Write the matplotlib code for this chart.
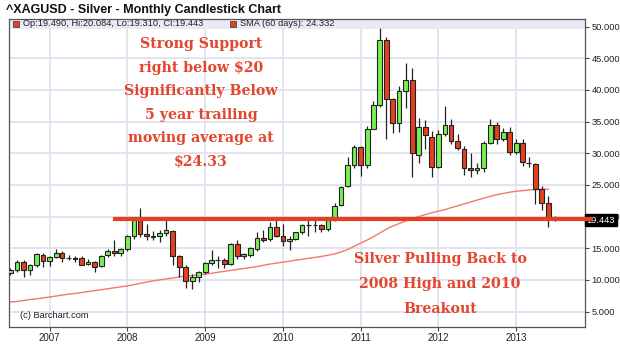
import numpy as np
import pandas as pd
import matplotlib
matplotlib.use("Agg")
import matplotlib.pyplot as plt
import matplotlib.dates as mdates
from matplotlib.patches import Rectangle
from matplotlib.transforms import blended_transform_factory

plt.rcParams["font.family"] = ["Liberation Sans", "DejaVu Sans"]

# monthly silver candles, Jul 2006 .. Jul 2013
months = pd.date_range("2006-07-01", "2013-07-01", freq="MS")

opens = [11.1, 11.5, 12.8, 11.5, 12.4, 14.0,
         13.0, 13.65, 14.2, 13.4, 13.45, 13.4, 12.5, 12.9, 12.2, 13.9, 14.6, 14.2,
         14.9, 17.0, 19.9, 17.3, 16.9, 16.9, 17.4, 17.7, 13.7, 12.1, 9.9, 10.5,
         11.3, 12.7, 13.1, 13.1, 12.5, 15.7, 13.7, 13.9, 14.9, 16.6, 16.4, 18.4,
         17.0, 16.2, 16.4, 17.5, 18.7, 18.6, 18.7, 18.0, 19.5, 21.8, 24.8, 28.1,
         31.0, 28.1, 33.9, 37.6, 47.9, 38.5, 34.7, 39.9, 41.6, 29.7, 34.2, 32.6,
         27.8, 33.1, 34.5, 32.0, 30.7, 27.6, 27.4, 27.7, 31.6, 34.4, 32.3, 33.4,
         30.2, 31.6, 28.5, 28.3, 24.3, 22.2, 19.49]
highs = [11.9, 13.1, 13.1, 12.5, 14.2, 14.2,
         13.8, 14.8, 14.5, 13.9, 13.7, 13.8, 13.3, 13.0, 13.9, 14.8, 16.3, 15.1,
         17.1, 20.0, 21.4, 18.9, 17.7, 17.9, 19.4, 17.8, 14.0, 12.3, 10.9, 11.4,
         12.9, 14.7, 13.7, 13.4, 15.9, 16.3, 14.3, 15.2, 17.5, 17.9, 19.2, 19.4,
         18.8, 17.0, 17.6, 18.9, 19.6, 19.5, 18.8, 19.6, 22.1, 24.9, 29.4, 31.3,
         31.2, 34.3, 38.2, 49.8, 48.3, 38.7, 40.6, 44.2, 43.4, 35.5, 35.3, 33.5,
         33.6, 37.5, 35.4, 33.0, 31.1, 30.0, 28.4, 32.0, 35.4, 35.0, 34.0, 34.1,
         32.3, 32.3, 29.4, 28.4, 24.8, 23.2, 20.084]
lows = [10.7, 11.2, 10.5, 10.8, 12.1, 12.1,
        12.2, 13.4, 12.9, 13.1, 12.8, 12.3, 12.3, 11.3, 12.0, 13.6, 13.8, 13.8,
        14.6, 16.5, 16.8, 16.3, 16.3, 16.0, 16.9, 12.4, 10.5, 8.7, 8.6, 9.6,
        10.9, 12.4, 11.9, 11.8, 12.3, 13.3, 13.3, 13.6, 14.6, 16.0, 16.2, 16.7,
        15.3, 14.7, 16.3, 17.3, 17.0, 17.6, 17.5, 17.7, 19.3, 21.6, 24.7, 27.6,
        26.4, 27.6, 33.8, 37.3, 32.3, 33.2, 33.4, 37.1, 26.2, 28.4, 30.6, 26.2,
        27.6, 32.8, 31.5, 30.5, 26.6, 26.2, 26.8, 27.0, 31.4, 31.4, 31.9, 29.8,
        29.9, 28.0, 27.8, 22.0, 21.0, 18.3, 19.31]
closes = [11.6, 12.9, 11.5, 12.3, 14.1, 13.0,
          13.6, 14.2, 13.4, 13.45, 13.35, 12.4, 12.9, 12.1, 13.8, 14.6, 14.2, 14.9,
          16.9, 19.4, 17.3, 16.9, 16.8, 17.4, 17.8, 13.7, 12.0, 9.9, 10.5, 11.3,
          12.6, 13.1, 13.1, 12.5, 15.7, 13.7, 14.1, 15.0, 16.6, 16.3, 18.4, 16.9,
          16.2, 16.4, 17.5, 18.6, 18.6, 18.7, 18.0, 19.4, 21.7, 24.7, 28.1, 31.0,
          28.1, 33.9, 37.6, 47.9, 38.5, 34.7, 39.9, 41.6, 30.0, 34.2, 32.9, 27.8,
          33.1, 34.4, 32.0, 30.8, 27.7, 27.4, 27.7, 31.6, 34.4, 32.3, 33.4, 30.2,
          31.6, 28.6, 28.4, 24.3, 22.2, 19.7, 19.443]

# 60-period simple moving average, Jul 2006 .. Jun 2013
sma = [6.5, 6.6, 6.75, 6.9, 7.0, 7.15,
       7.3, 7.45, 7.6, 7.75, 7.85, 8.0, 8.15, 8.3, 8.45, 8.6, 8.75, 8.9,
       9.05, 9.25, 9.45, 9.65, 9.85, 10.0, 10.15, 10.3, 10.45, 10.6, 10.7, 10.8,
       10.9, 11.05, 11.2, 11.35, 11.5, 11.65, 11.8, 11.95, 12.1, 12.3, 12.5, 12.65,
       12.8, 12.95, 13.1, 13.25, 13.4, 13.55, 13.7, 13.9, 14.1, 14.4, 14.8, 15.3,
       15.8, 16.3, 16.8, 17.4, 18.0, 18.5, 18.9, 19.3, 19.7, 20.0, 20.3, 20.6,
       20.85, 21.1, 21.4, 21.7, 22.0, 22.3, 22.6, 22.9, 23.2, 23.45, 23.65, 23.85,
       24.0, 24.1, 24.2, 24.25, 24.3, 24.33]

support_level = 19.6
support_from = pd.Timestamp("2007-10-25")
year_ticks = [pd.Timestamp(f"{y}-01-01") for y in range(2007, 2014)]
year_labels = [str(y) for y in range(2007, 2014)]
price_ticks = [5, 10, 15, 20, 25, 30, 35, 40, 45, 50]

RED = "#e5401f"
GREEN = "#78f050"
TEXT_RED = "#e4452e"
GRID = "#dfe2ef"

# plot box in pixels: left 8.5, right 585, top 19, bottom 327
W, H = 620, 346
ax_w, ax_h = 576.5, 308
fig = plt.figure(figsize=(6.2, 3.46), dpi=100)
fig.patch.set_facecolor("white")
ax = fig.add_axes([8.5 / W, (H - 327) / H, ax_w / W, ax_h / H])

x = mdates.date2num(months)
o = np.array(opens)
h = np.array(highs)
l = np.array(lows)
c = np.array(closes)
up = c >= o
colors = [GREEN if u else RED for u in up]

# wicks then bodies
ax.vlines(x, l, h, color="#222222", lw=0.9, zorder=3)
body_lo = np.minimum(o, c)
body_h = np.maximum(np.abs(c - o), 0.04)
ax.bar(x, body_h, bottom=body_lo, width=22, color=colors,
       edgecolor="#222222", linewidth=0.8, zorder=4)

# moving average
ax.plot(x[:len(sma)], sma, color="#f27a68", lw=1.0, zorder=2)

# support line, running out past the price axis
x_end = mdates.date2num(pd.Timestamp("2013-11-20"))
ax.plot([mdates.date2num(support_from), x_end + 36], [support_level] * 2,
        color=RED, lw=3.0, solid_capstyle="butt", zorder=6, clip_on=False)

ax.set_xlim(mdates.date2num(pd.Timestamp("2006-06-22")), x_end)
ax.set_ylim(2.56, 51.2)

ax.set_xticks(mdates.date2num(year_ticks))
ax.set_xticklabels(year_labels)
ax.set_yticks(price_ticks)
ax.set_yticklabels([f"{v:.3f}" for v in price_ticks])
ax.yaxis.tick_right()
ax.tick_params(axis="both", direction="out", length=3, width=0.8,
               colors="#444444", labelcolor="#222222", pad=1.5)
ax.tick_params(axis="y", labelsize=6.7)
ax.tick_params(axis="x", labelsize=7)
ax.grid(True, color=GRID, lw=1.3, zorder=0)
ax.set_axisbelow(True)
for s in ax.spines.values():
    s.set_color("#555555")
    s.set_linewidth(0.9)

# header strip with the last bar and the average
ax.add_patch(Rectangle((0, 1 - 10 / ax_h), 1, 10 / ax_h, transform=ax.transAxes,
                       facecolor="#e8eaf6", edgecolor="none", zorder=1))
ax.add_patch(Rectangle((4.5 / ax_w, 1 - 8 / ax_h), 5.5 / ax_w, 6 / ax_h, transform=ax.transAxes,
                       facecolor=RED, edgecolor="#333333", lw=0.5, zorder=2))
ax.text(14.5 / ax_w, 1 - 5 / ax_h, "Op:19.490, Hi:20.084, Lo:19.310, Cl:19.443",
        transform=ax.transAxes, fontsize=6.7, va="center", color="#222222", zorder=2)
ax.add_patch(Rectangle((221.5 / ax_w, 1 - 8 / ax_h), 5.5 / ax_w, 6 / ax_h, transform=ax.transAxes,
                       facecolor=RED, edgecolor="#333333", lw=0.5, zorder=2))
ax.text(231.5 / ax_w, 1 - 5 / ax_h, "SMA (60 days): 24.332",
        transform=ax.transAxes, fontsize=6.7, va="center", color="#222222", zorder=2)

# last price marker on the axis
tr = blended_transform_factory(ax.transAxes, ax.transData)
ax.text(1.0 + 1.5 / ax_w, closes[-1], f"{closes[-1]:.3f}", transform=tr, fontsize=6.7,
        color="white", va="center", ha="left", zorder=5,
        bbox=dict(boxstyle="square,pad=0.2", facecolor="black", edgecolor="black"))

ax.text(12 / ax_w, 11 / ax_h, "(c) Barchart.com", transform=ax.transAxes,
        fontsize=6.7, color="#222222", va="center")

fig.text(6 / W, 1 - 13.5 / H, "^XAGUSD - Silver - Monthly Candlestick Chart",
         fontsize=9, fontweight="bold", color="#111111", va="baseline")

note_font = dict(family="DejaVu Serif", fontweight="bold", color=TEXT_RED,
                 ha="center", va="center")
fig.text(201 / W, 1 - 103 / H,
         "Strong Support\nright below $20\nSignificantly Below\n5 year trailing\n"
         "moving average at\n$24.33", fontsize=10.2, linespacing=1.87, **note_font)
fig.text(440 / W, 1 - 284 / H,
         "Silver Pulling Back to\n2008 High and 2010\nBreakout", fontsize=10.2,
         linespacing=2.0, **note_font)

fig.savefig("out.png", dpi=100)
